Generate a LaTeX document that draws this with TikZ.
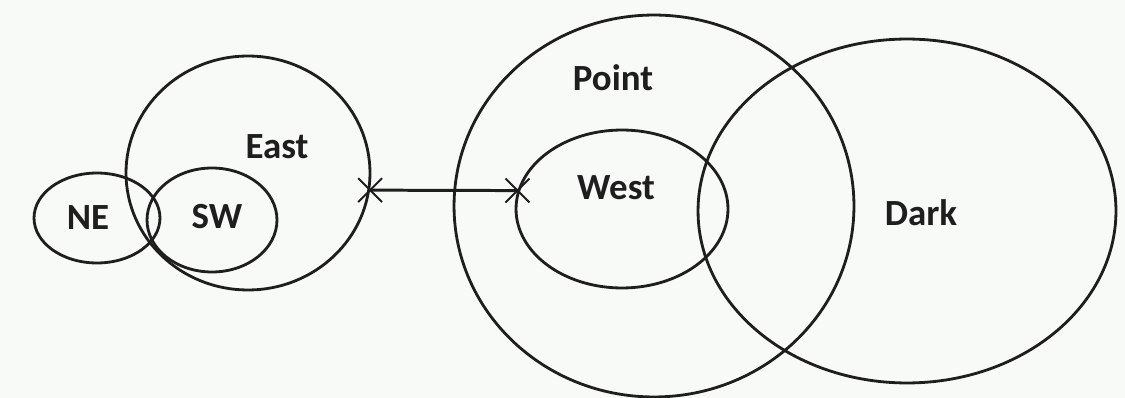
\documentclass[tikz,border=0pt]{standalone}
\usepackage{fontspec}
\setmainfont{Carlito}
\usepackage{tikz}
\usetikzlibrary{positioning,shapes.geometric,shapes.misc}
\definecolor{paperBg}{HTML}{F7FAF6}
\definecolor{inkGray}{HTML}{1E1E1E}

\begin{document}
\begin{tikzpicture}[
    x=0.02cm, y=-0.02cm,
    every node/.style={font=\fontsize{21}{25}\selectfont\bfseries, text=inkGray},
    region/.style={ellipse,draw=inkGray,line width=1.6pt,inner sep=0pt},
    lab/.style={inner sep=1pt},
    xmark/.style={cross out,draw=inkGray,line width=1.1pt,minimum size=0.44cm,inner sep=0pt},
    link/.style={draw=inkGray,line width=1.7pt}
  ]
  \fill[paperBg] (0,0) rectangle (1125,398);
  \useasboundingbox (0,0) rectangle (1125,398);
  %% Left group: East with NE and SW
  \node[region,minimum width=4.88cm,minimum height=4.68cm] (East) at (248,173) {};
  \node[region,minimum width=2.52cm,minimum height=1.80cm] (NE)   at (97,218) {};
  \node[region,minimum width=2.60cm,minimum height=2.08cm] (SW)   at (212,220) {};
  \node[lab] (EastLab) at (277,147) {East};
  \node[lab] (NELab)   at (88,218)  {NE};
  \node[lab] (SWLab)   at (217,217) {SW};
  %% Right group: Point with West, and Dark
  \node[region,minimum width=8.00cm,minimum height=7.64cm] (Point) at (654,206) {};
  \node[region,minimum width=4.24cm,minimum height=3.16cm] (West)  at (622,209) {};
  \node[region,minimum width=8.36cm,minimum height=6.88cm] (Dark)  at (907,211) {};
  \node[lab] (PointLab) at (613,78)  {Point};
  \node[lab] (WestLab)  at (616,188) {West};
  \node[lab] (DarkLab)  at (921,213) {Dark};
  %% Link between East and West
  \draw[link] (East.-8) -- (West.170.5);
  \node[xmark] (EastEnd) at (East.-8) {};
  \node[xmark] (WestEnd) at (West.170.5) {};
\end{tikzpicture}
\end{document}
